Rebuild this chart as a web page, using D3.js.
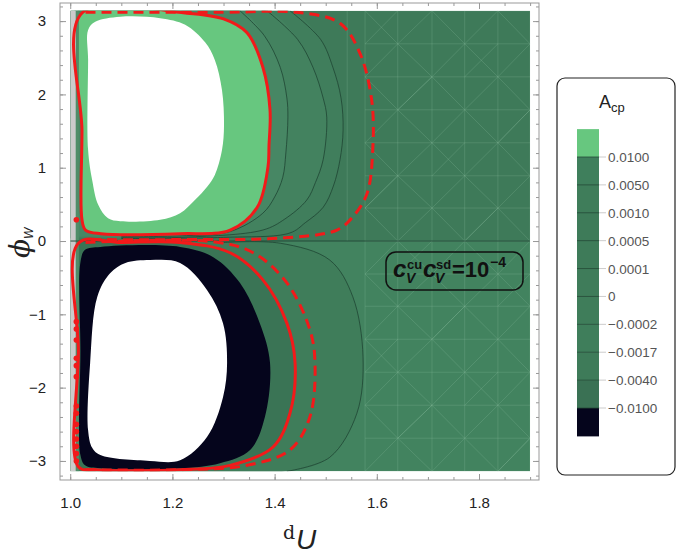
<!DOCTYPE html>
<html lang="en">
<head>
<meta charset="UTF-8">
<title>A_cp contours</title>
<script src="https://cdn.jsdelivr.net/npm/d3@7/dist/d3.min.js"></script>
<style>
  body { margin: 0; background: #fff; }
  svg { display: block; font-family: "Liberation Sans", Arial, sans-serif; }
  .frame path.domain { stroke: #999; }
  .frame line { stroke: #999; }
  .frame text { fill: #222; font-size: 15px; }
</style>
</head>
<body>
<svg id="chart" width="678" height="555"></svg>
<script>
// axis ticks
const xTicks = [1.0, 1.2, 1.4, 1.6, 1.8];
const yTicks = [-3, -2, -1, 0, 1, 2, 3];

// legend levels (A_cp contour values) and band colours, top to bottom
const levelLabels = ["0.0100", "0.0050", "0.0010", "0.0005", "0.0001", "0", "\u22120.0002", "\u22120.0017", "\u22120.0040", "\u22120.0100"];
const bandColors = ["#67c77f", "#3f7f5c", "#3f7d5a", "#3e7b59", "#3e7b59", "#3f7c5a", "#3f7d5a", "#3f7e5b", "#3e7b59", "#3a7154", "#05051c"];

// contours, [d_U, phi_W]
const upperC3 = [[1.0,3.1416],[1.430,3.1416],[1.490,2.75],[1.514,2.37],[1.530,1.95],[1.534,1.51],[1.528,1.11],[1.515,0.75],[1.495,0.46],[1.460,0.25],[1.430,0.11],[1.30,0.05],[1.10,0.035],[1.0,0.035]];
const upperC2 = [[1.0,3.1416],[1.385,3.1416],[1.445,2.75],[1.475,2.37],[1.495,1.95],[1.502,1.69],[1.495,1.11],[1.480,0.80],[1.463,0.56],[1.420,0.30],[1.377,0.15],[1.215,0.05],[1.10,0.045],[1.0,0.045]];
const upperC1 = [[1.0,3.1416],[1.332,3.1416],[1.380,2.80],[1.411,2.37],[1.424,1.95],[1.426,1.69],[1.422,1.20],[1.416,0.87],[1.400,0.60],[1.377,0.38],[1.313,0.13],[1.215,0.07],[1.10,0.06],[1.0,0.06]];
const upperRed = [[1.023,0.29],[1.023,1.5],[1.023,3.11],[1.225,3.11],[1.30,3.03],[1.346,2.84],[1.377,2.37],[1.391,1.79],[1.389,1.30],[1.387,1.01],[1.366,0.46],[1.313,0.15],[1.215,0.10],[1.06,0.10],[1.03,0.15]];
const upperHole = [[1.035,2.88],[1.049,2.99],[1.098,3.06],[1.176,3.04],[1.225,2.95],[1.264,2.71],[1.283,2.47],[1.297,2.06],[1.301,1.58],[1.297,1.24],[1.283,0.90],[1.268,0.74],[1.244,0.56],[1.215,0.38],[1.176,0.29],[1.098,0.27],[1.074,0.31],[1.055,0.49],[1.043,0.83],[1.035,1.24],[1.035,2.47]];
const upperDash = [[1.03,3.12],[1.30,3.12],[1.444,3.12],[1.528,2.97],[1.567,2.56],[1.590,1.92],[1.592,1.24],[1.581,0.65],[1.553,0.33],[1.522,0.15],[1.411,0.04],[1.215,0.02],[1.03,0.02]];

const lowerThin = [[1.0,-0.02],[1.30,-0.02],[1.411,-0.03],[1.508,-0.26],[1.553,-0.76],[1.573,-1.58],[1.561,-2.35],[1.508,-2.95],[1.424,-3.1416],[1.0,-3.1416]];
const lowerRed = [[1.016,-0.03],[1.10,-0.02],[1.215,-0.02],[1.313,-0.16],[1.377,-0.53],[1.424,-1.12],[1.440,-1.66],[1.430,-2.35],[1.397,-2.81],[1.313,-3.06],[1.215,-3.12],[1.05,-3.12],[1.016,-3.08],[1.016,-1.5]];
const lowerDark = [[1.020,-0.29],[1.029,-0.12],[1.059,-0.08],[1.215,-0.08],[1.280,-0.22],[1.332,-0.57],[1.371,-1.12],[1.391,-1.66],[1.381,-2.40],[1.352,-2.85],[1.293,-3.03],[1.215,-3.10],[1.059,-3.10],[1.029,-3.06],[1.020,-2.92],[1.020,-1.5]];
const lowerHole = [[1.078,-0.44],[1.053,-0.76],[1.039,-1.66],[1.035,-2.58],[1.043,-2.82],[1.059,-2.92],[1.156,-3.00],[1.215,-2.99],[1.268,-2.67],[1.299,-2.13],[1.307,-1.66],[1.299,-1.12],[1.268,-0.67],[1.215,-0.30],[1.156,-0.26],[1.108,-0.30]];
const lowerDash = [[1.03,-0.02],[1.280,-0.01],[1.358,-0.16],[1.424,-0.57],[1.469,-1.21],[1.479,-1.66],[1.469,-2.40],[1.430,-2.85],[1.346,-3.06],[1.215,-3.12],[1.03,-3.12]];

// stray red points along the left edge
const redDotsPhi = [0.29, -1.1, -1.2, -1.35, -1.6, -1.7, -1.85, -2.25, -2.35, -2.5, -2.6, -2.7, -2.8, -2.9, -3.0];

// triangulation mesh nodes in the flat region
const meshX = [1.577, 1.641, 1.708, 1.772, 1.837, 1.90];
const meshY = [3.1416, 2.69, 2.24, 1.79, 1.34, 0.89, 0.45, 0, -0.45, -0.89, -1.34, -1.79, -2.24, -2.69, -3.1416];

const svg = d3.select("#chart");
const x = d3.scaleLinear().domain([0.98, 1.9174]).range([60, 539]);
const y = d3.scaleLinear().domain([-3.26, 3.247]).range([480, 3]);

svg.append("defs").append("clipPath").attr("id", "clip")
  .append("rect")
  .attr("x", x(1.0)).attr("y", y(Math.PI))
  .attr("width", x(1.9) - x(1.0)).attr("height", y(-Math.PI) - y(Math.PI));

const g = svg.append("g").attr("clip-path", "url(#clip)");

const openLine = d3.line().x(d => x(d[0])).y(d => y(d[1])).curve(d3.curveCatmullRom.alpha(0.5));
const closedLine = d3.line().x(d => x(d[0])).y(d => y(d[1])).curve(d3.curveCatmullRomClosed.alpha(0.5));

// base colours of the two halves
g.append("rect").attr("x", x(1.0)).attr("y", y(Math.PI))
  .attr("width", x(1.9) - x(1.0)).attr("height", y(0) - y(Math.PI)).attr("fill", "#3e7a59");
g.append("rect").attr("x", x(1.0)).attr("y", y(0))
  .attr("width", x(1.9) - x(1.0)).attr("height", y(-Math.PI) - y(0)).attr("fill", "#42835f");

// mesh
const mesh = g.append("g").attr("stroke", "#9cc9ad").attr("stroke-opacity", 0.3).attr("stroke-width", 0.7);
meshX.forEach(v => mesh.append("line").attr("x1", x(v)).attr("x2", x(v)).attr("y1", y(Math.PI)).attr("y2", y(-Math.PI)));
meshY.forEach(v => mesh.append("line").attr("x1", x(meshX[0])).attr("x2", x(1.9)).attr("y1", y(v)).attr("y2", y(v)));
mesh.append("line").attr("x1", x(1.542)).attr("x2", x(1.542)).attr("y1", y(Math.PI)).attr("y2", y(0));
for (let i = 0; i < meshX.length - 1; i++) {
  for (let j = 0; j < meshY.length - 1; j++) {
    const x0 = x(meshX[i]), x1 = x(meshX[i + 1]), y0 = y(meshY[j]), y1 = y(meshY[j + 1]);
    if ((i + j) % 2 === 0) mesh.append("line").attr("x1", x0).attr("y1", y0).attr("x2", x1).attr("y2", y1);
    else mesh.append("line").attr("x1", x0).attr("y1", y1).attr("x2", x1).attr("y2", y0);
    if ((i * 3 + j) % 5 === 0) mesh.append("line").attr("x1", x0).attr("y1", y1).attr("x2", x1).attr("y2", y0);
  }
}

// upper half bands
g.append("path").attr("d", openLine(upperC3) + "Z").attr("fill", "#407e5c");
g.append("path").attr("d", openLine(upperC2) + "Z").attr("fill", "#43825f");
g.append("path").attr("d", openLine(upperC1) + "Z").attr("fill", "#478764");
g.append("path").attr("d", closedLine(upperRed)).attr("fill", bandColors[0]);
g.append("path").attr("d", closedLine(upperHole)).attr("fill", "#fff");

// lower half bands
g.append("path").attr("d", openLine(lowerThin) + "Z").attr("fill", "#3f7d5a");
g.append("path").attr("d", closedLine(lowerRed)).attr("fill", "#3a7455");
g.append("path").attr("d", closedLine(lowerDark)).attr("fill", bandColors[10]);
g.append("path").attr("d", closedLine(lowerHole)).attr("fill", "#fff");

// left strip
g.append("rect").attr("x", x(1.0)).attr("y", y(Math.PI))
  .attr("width", x(1.011) - x(1.0)).attr("height", y(-Math.PI) - y(Math.PI)).attr("fill", "#cbcbcb");
g.append("rect").attr("x", x(1.011)).attr("y", y(Math.PI))
  .attr("width", x(1.017) - x(1.011)).attr("height", y(-Math.PI) - y(Math.PI)).attr("fill", "#4f8d68");

// thin contour lines
const thin = g.append("g").attr("fill", "none").attr("stroke", "#1f4533").attr("stroke-width", 0.8);
[upperC3, upperC2, upperC1, lowerThin].forEach(c => thin.append("path").attr("d", openLine(c.slice(1, -1))));
g.append("line").attr("x1", x(1.0)).attr("x2", x(1.9)).attr("y1", y(0)).attr("y2", y(0))
  .attr("stroke", "#234b38").attr("stroke-width", 1);

// red contours
const red = g.append("g").attr("fill", "none").attr("stroke", "#f21a1a").attr("stroke-width", 3);
red.append("path").attr("d", closedLine(upperRed));
red.append("path").attr("d", closedLine(lowerRed));
red.append("path").attr("d", openLine(upperDash)).attr("stroke-dasharray", "10,6");
red.append("path").attr("d", openLine(lowerDash)).attr("stroke-dasharray", "10,6");
g.selectAll("circle.dot").data(redDotsPhi).join("circle").attr("class", "dot")
  .attr("cx", x(1.012)).attr("cy", d => y(d)).attr("r", 2.8).attr("fill", "#f21a1a");

// frame
const minorX = d3.range(1.0, 1.91, 0.05);
const minorY = d3.range(-3.2, 3.21, 0.2);
const frame = svg.append("g").attr("class", "frame");
frame.append("rect").attr("x", 60).attr("y", 3).attr("width", 479).attr("height", 477)
  .attr("fill", "none").attr("stroke", "#999");
const addAxis = (axis, tr, vals, size, fmt) => {
  frame.append("g").attr("transform", tr)
    .call(axis.tickValues(vals).tickSize(size).tickPadding(8 - size).tickFormat(fmt))
    .call(s => s.select(".domain").remove());
};
const none = () => "";
addAxis(d3.axisBottom(x), "translate(0,480)", minorX, -3, none);
addAxis(d3.axisBottom(x), "translate(0,480)", xTicks, -6, d3.format(".1f"));
addAxis(d3.axisTop(x), "translate(0,3)", minorX, -3, none);
addAxis(d3.axisTop(x), "translate(0,3)", xTicks, -6, none);
addAxis(d3.axisLeft(y), "translate(60,0)", minorY, -3, none);
addAxis(d3.axisLeft(y), "translate(60,0)", yTicks, -6, d => d < 0 ? "\u2212" + (-d) : d);
addAxis(d3.axisRight(y), "translate(539,0)", minorY, -3, none);
addAxis(d3.axisRight(y), "translate(539,0)", yTicks, -6, none);
frame.selectAll("text").style("font-size", "15px").attr("fill", "#222");
frame.selectAll(".tick text").filter(function () { return this.parentNode.parentNode.getAttribute("transform") === "translate(0,480)"; })
  .attr("dy", "0.95em");

// axis labels
svg.append("text").attr("x", 283).attr("y", 539).attr("font-size", 19).attr("fill", "#222")
  .attr("font-family", "DejaVu Serif, serif").text("d");
svg.append("text").attr("x", 296).attr("y", 549).attr("font-size", 28).attr("font-style", "italic").attr("fill", "#222")
  .text("U");
const yl = svg.append("text").attr("transform", "translate(29,258) rotate(-90)").attr("fill", "#222");
yl.append("tspan").attr("font-size", 28).attr("font-style", "italic").attr("font-family", "DejaVu Serif, serif").text("\u03d5");
yl.append("tspan").attr("font-size", 12).attr("font-style", "italic").attr("dy", 4).text("W");

// annotation
svg.append("rect").attr("x", 386).attr("y", 252).attr("width", 137).attr("height", 38).attr("rx", 10)
  .attr("fill", "none").attr("stroke", "#111").attr("stroke-width", 1.5);
const ann = svg.append("g").attr("font-weight", "bold").attr("fill", "#111");
const annParts = [
  { t: "c", x: 393, y: 277, s: 24, i: true }, { t: "cu", x: 407, y: 269, s: 13 }, { t: "V", x: 406, y: 283, s: 14, i: true },
  { t: "c", x: 423, y: 277, s: 24, i: true }, { t: "sd", x: 436, y: 269, s: 13 }, { t: "V", x: 435, y: 283, s: 14, i: true },
  { t: "=10", x: 452, y: 277, s: 22 }, { t: "\u22124", x: 490, y: 267, s: 14 }
];
annParts.forEach(p => ann.append("text").attr("x", p.x).attr("y", p.y).attr("font-size", p.s)
  .attr("font-style", p.i ? "italic" : "normal").text(p.t));

// legend
const lg = svg.append("g");
lg.append("rect").attr("x", 557).attr("y", 78).attr("width", 118).attr("height", 397).attr("rx", 8)
  .attr("fill", "#fff").attr("stroke", "#222").attr("stroke-width", 1.2);
const lt = lg.append("text").attr("x", 599).attr("y", 108).attr("fill", "#222");
lt.append("tspan").attr("font-size", 18).text("A");
lt.append("tspan").attr("font-size", 13).attr("dy", 4).text("cp");
const ly = d3.scaleLinear().domain([0, levelLabels.length - 1]).range([157, 408]);
const step = ly(1) - ly(0);
bandColors.forEach((c, i) => lg.append("rect").attr("x", 577).attr("width", 22)
  .attr("y", ly(i) - step).attr("height", step + 0.5).attr("fill", c));
levelLabels.forEach((l, i) => {
  lg.append("line").attr("x1", 577).attr("x2", 599).attr("y1", ly(i)).attr("y2", ly(i))
    .attr("stroke", "#244a37").attr("stroke-width", 0.8);
  lg.append("line").attr("x1", 599).attr("x2", 606).attr("y1", ly(i)).attr("y2", ly(i))
    .attr("stroke", "#ccc");
  lg.append("text").attr("x", 608).attr("y", ly(i) + 5).attr("font-size", 13.5).attr("fill", "#555").text(l);
});
</script>
</body>
</html>
